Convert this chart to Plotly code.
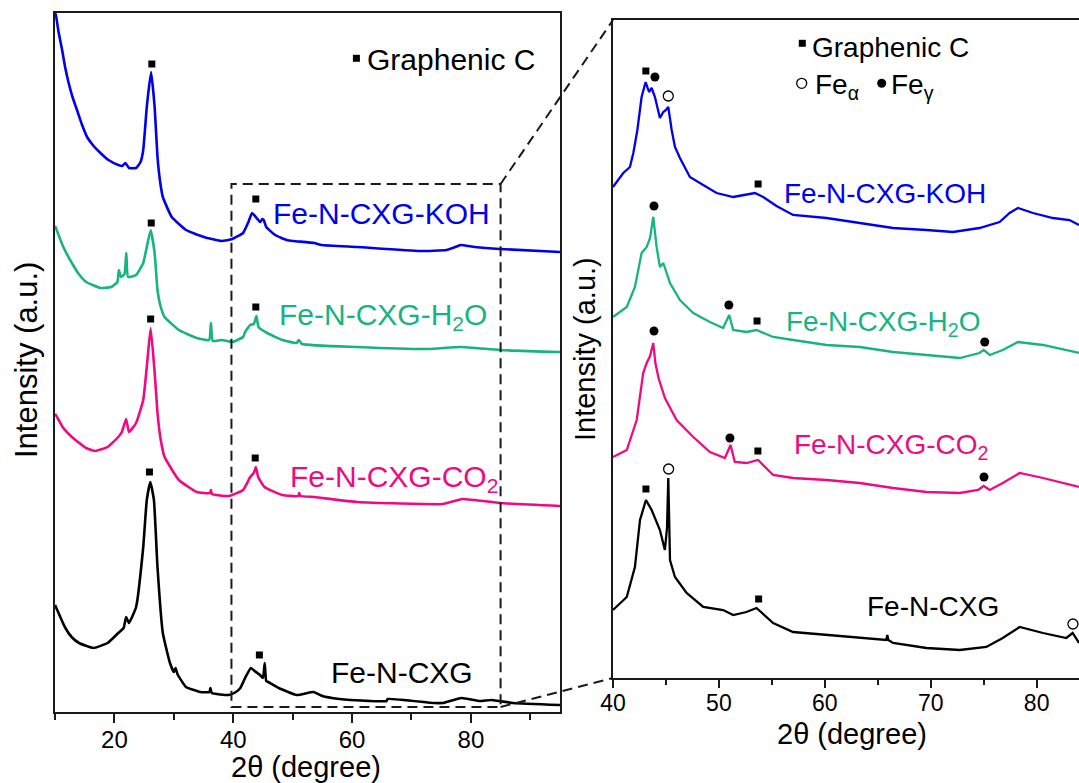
import plotly.graph_objects as go

W, H = 1079, 783

# ---------------- DATA (2theta in degree, intensity in a.u.) ----------------
# Left panel: full scans (stacked)
koh_L_x = [10.0, 10.15, 10.6, 11.2, 11.7, 12.3, 13.0, 13.7, 14.5, 15.4, 16.5, 17.65, 19.0, 20.65, 21.3, 21.85,
           22.45, 23.65, 24.4, 24.85, 25.45, 26.17, 26.77, 27.25, 27.7, 28.15, 29.65, 32.05, 35.06, 38.05,
           39.85, 41.66, 42.56, 43.16, 43.93, 44.54, 44.9, 45.14, 45.55, 47.06, 49.0, 50.07, 53.66, 54.86,
           60.85, 71.4, 75.87, 77.8, 78.27, 80.67, 84.87, 95.0]
koh_L_y = [699, 697, 680, 662, 645, 629, 614, 602, 588, 575, 566, 559, 552, 547, 546, 549,
           544, 544, 550, 562, 605, 640, 605, 555, 530, 515, 495, 482, 475, 471,
           473, 479, 490, 499, 494, 490, 493, 492, 485, 477, 472, 471, 469, 467,
           465, 461, 462, 466, 467, 465, 463, 460]

h2o_L_x = [10.0, 10.15, 11.4, 12.84, 14.0, 15.24, 17.65, 19.45, 20.5, 20.75, 21.1, 21.7, 22.0, 22.3, 23.65,
           24.85, 25.45, 26.1, 26.77, 27.25, 27.8, 28.45, 30.85, 33.85, 35.95, 36.25, 36.55, 38.05, 39.85,
           41.66, 42.0, 42.86, 43.46, 43.9, 44.25, 45.7, 48.26, 50.67, 51.0, 51.57, 60.85, 72.85, 78.27,
           84.87, 95.0]
h2o_L_y = [486, 484, 465, 449, 438, 430, 424, 425, 430, 442, 435, 438, 459, 435, 437,
           449, 465, 482, 459, 422, 405, 395, 382, 374, 372, 389, 371, 372, 370,
           375, 380, 387, 388, 396, 385, 379, 372, 369, 372, 368, 365, 363, 365,
           362, 360]

co2_L_x = [10.0, 10.15, 11.4, 12.84, 15.24, 16.75, 18.85, 20.65, 21.25, 21.97, 22.45, 23.65, 24.85, 25.45,
           26.1, 26.77, 27.1, 27.25, 27.8, 28.45, 30.85, 33.85, 36.1, 36.25, 36.4, 39.25, 41.66, 42.86,
           43.46, 43.8, 44.2, 45.26, 48.26, 50.96, 51.1, 51.3, 53.66, 60.85, 75.27, 78.57, 84.87, 95.0]
co2_L_y = [298, 297, 284, 275, 264, 261, 265, 275, 280, 293, 280, 289, 312, 345,
           384, 340, 312, 299, 272, 255, 232, 220, 219, 222, 218, 216, 222, 235,
           239, 245, 235, 225, 217, 216, 219, 216, 215, 210, 208, 213, 209, 206]

fe_L_x = [10.0, 10.15, 11.65, 12.8, 14.05, 16.45, 18.85, 20.65, 21.55, 21.97, 22.45, 23.65, 24.85, 25.45,
          26.05, 26.65, 27.25, 28.15, 29.35, 30.0, 30.3, 30.6, 32.05, 34.45, 36.0, 36.15, 36.4, 39.25,
          40.45, 41.2, 42.0, 42.97, 43.6, 44.5, 45.0, 45.3, 45.55, 45.9, 47.66, 50.67, 53.5, 55.0, 57.86,
          59.7, 65.8, 66.0, 73.7, 75.27, 78.4, 81.5, 83.5, 87.1, 95.0]
fe_L_y = [107, 105, 85, 75, 69, 64, 69, 79, 84, 95, 89, 105, 165, 212,
          230, 212, 145, 79, 49, 40, 44, 38, 25, 20, 20, 24, 19, 17,
          20, 24, 34, 44, 41, 37, 34, 49, 31, 30, 24, 17, 20, 16, 13,
          12, 11, 13, 9, 9, 14, 11, 12, 9, 7]

# Right panel: enlarged 40-84 degree region
koh_R_x = [40.0, 40.97, 41.6, 41.92, 42.3, 42.7, 43.08, 43.4, 43.65, 43.96, 44.43, 44.75, 45.0, 45.22, 45.54,
           45.85, 46.32, 47.26, 48.2, 49.78, 51.35, 52.61, 53.4, 54.18, 55.44, 57.0, 60.16, 63.3, 66.44,
           69.6, 72.1, 74.6, 76.5, 77.45, 78.24, 79.65, 81.54, 83.1, 84.0]
koh_R_y = [491, 505, 511, 525, 548, 581, 596, 586, 590, 581, 560, 566, 568, 571, 548,
           531, 520, 501, 495, 485, 481, 483, 485, 481, 472, 463, 460, 455, 450,
           448, 446, 450, 456, 465, 470, 465, 460, 458, 453]

h2o_R_x = [40.0, 41.3, 42.07, 42.7, 43.18, 43.5, 43.8, 44.12, 44.43, 44.75, 45.38, 46.32, 47.58, 49.15,
           50.4, 50.97, 51.35, 52.61, 53.55, 55.12, 57.0, 60.16, 63.3, 66.44, 69.6, 72.74, 74.6, 75.0,
           75.57, 76.8, 78.24, 80.6, 84.0]
h2o_R_y = [361, 371, 391, 425, 431, 440, 461, 431, 411, 415, 395, 378, 365, 356,
           350, 363, 348, 346, 348, 341, 338, 333, 331, 326, 323, 320, 325, 328,
           323, 328, 336, 333, 325]

co2_R_x = [40.0, 41.3, 42.24, 42.55, 42.85, 43.18, 43.5, 43.8, 44.0, 44.3, 44.9, 45.4, 46.0, 47.58, 49.15,
           50.57, 51.1, 51.5, 52.61, 53.7, 55.12, 57.0, 60.16, 63.3, 66.44, 69.6, 72.74, 74.47, 75.0,
           75.57, 76.8, 78.4, 80.6, 84.0]
co2_R_y = [221, 228, 258, 285, 305, 315, 322, 335, 315, 300, 280, 270, 258, 241, 226,
           220, 233, 216, 215, 218, 203, 200, 198, 195, 190, 186, 185, 188, 192,
           188, 195, 205, 200, 191]

fe_R_x = [40.0, 41.3, 42.07, 42.55, 43.11, 43.65, 44.43, 44.9, 45.1, 45.22, 45.32, 45.38, 45.85, 46.95,
          48.52, 50.4, 51.35, 52.6, 53.55, 55.12, 57.0, 60.16, 63.3, 65.8, 65.9, 66.0, 66.44, 69.6,
          72.74, 75.25, 76.8, 78.4, 80.6, 82.8, 83.4, 84.0]
fe_R_y = [68, 81, 111, 158, 178, 168, 148, 128, 150, 200, 150, 118, 101, 85,
          71, 68, 63, 66, 70, 55, 46, 43, 40, 38, 43, 38, 35, 30,
          28, 31, 40, 51, 45, 40, 45, 35]

# Phase markers (peak positions and heights)
gc_L_x = [26.3, 43.8, 26.2, 43.8, 26.1, 43.7, 25.9, 44.4]
gc_L_y = [648, 513, 489, 405, 393, 254, 240, 57]

gc_R_x = [43.1, 53.7, 53.6, 53.68, 43.11, 53.75]
gc_R_y = [607, 494, 357, 227, 189, 79]
feg_R_x = [43.96, 43.87, 50.94, 75.1, 43.87, 51.04, 75.03]
feg_R_y = [601, 472, 373, 336, 347, 240, 201]
fea_R_x = [45.22, 45.25, 83.43]
fea_R_y = [582, 209, 54]

names = ["Fe-N-CXG-KOH", "Fe-N-CXG-H<sub>2</sub>O", "Fe-N-CXG-CO<sub>2</sub>", "Fe-N-CXG"]
colors = ["#0000f0", "#16b482", "#f00a82", "#000000"]

# ---------------- LAYOUT GEOMETRY ----------------
FONT = "Liberation Sans, Arial, sans-serif"
def X(p):
    return p / W
def Y(p):
    return 1 - p / H

L_dom_x = [X(55), X(560)]
L_dom_y = [Y(712), Y(13)]
R_dom_x = [X(613), 1.0]
R_dom_y = [Y(678), Y(20)]
L_xr, L_yr = [10, 95], [0, 699]
R_xr, R_yr = [40, 84], [0, 658]

fig = go.Figure()

left_sets = [(koh_L_x, koh_L_y), (h2o_L_x, h2o_L_y), (co2_L_x, co2_L_y), (fe_L_x, fe_L_y)]
right_sets = [(koh_R_x, koh_R_y), (h2o_R_x, h2o_R_y), (co2_R_x, co2_R_y), (fe_R_x, fe_R_y)]
for (xs, ys), c in zip(left_sets, colors):
    fig.add_trace(go.Scatter(x=xs, y=ys, mode="lines", line=dict(color=c, width=2.6, shape="spline", smoothing=0.4),
                             xaxis="x", yaxis="y", showlegend=False, hoverinfo="skip"))
for (xs, ys), c in zip(right_sets, colors):
    fig.add_trace(go.Scatter(x=xs, y=ys, mode="lines", line=dict(color=c, width=2.3),
                             xaxis="x2", yaxis="y2", showlegend=False, hoverinfo="skip"))

fig.add_trace(go.Scatter(x=gc_L_x, y=gc_L_y, mode="markers", xaxis="x", yaxis="y",
                         marker=dict(symbol="square", size=7, color="black"), showlegend=False))
fig.add_trace(go.Scatter(x=gc_R_x, y=gc_R_y, mode="markers", xaxis="x2", yaxis="y2",
                         marker=dict(symbol="square", size=7, color="black"), showlegend=False))
fig.add_trace(go.Scatter(x=feg_R_x, y=feg_R_y, mode="markers", xaxis="x2", yaxis="y2",
                         marker=dict(symbol="circle", size=9, color="black"), showlegend=False))
fig.add_trace(go.Scatter(x=fea_R_x, y=fea_R_y, mode="markers", xaxis="x2", yaxis="y2",
                         marker=dict(symbol="circle-open", size=10, color="black",
                                     line=dict(width=1.3, color="black")), showlegend=False))

axis_common = dict(showgrid=False, zeroline=False, showline=True, linecolor="#1a1a1a", linewidth=2,
                   automargin=False)

fig.update_layout(
    template="none",
    width=W, height=H, margin=dict(l=0, r=0, t=0, b=0, pad=0, autoexpand=False),
    paper_bgcolor="white", plot_bgcolor="white",
    font=dict(family=FONT, color="black"),
    xaxis=dict(domain=L_dom_x, range=L_xr, anchor="y", mirror=True,
               tickvals=[20, 40, 60, 80], ticks="outside", ticklen=9, tickwidth=2, tickcolor="#1a1a1a",
               ticklabelstandoff=-4,
               tickfont=dict(size=24, family=FONT, color="black"),
               minor=dict(tickvals=[10, 30, 50, 70, 90], ticks="outside", ticklen=6, tickwidth=2,
                          tickcolor="#1a1a1a", showgrid=False),
               **axis_common),
    yaxis=dict(domain=L_dom_y, range=L_yr, anchor="x", mirror=True, showticklabels=False, ticks="",
               **axis_common),
    xaxis2=dict(domain=R_dom_x, range=R_xr, anchor="y2", mirror=True,
                tickvals=[40, 50, 60, 70, 80], ticks="outside", ticklen=8, tickwidth=2, tickcolor="#1a1a1a",
                ticklabelstandoff=-5,
                tickfont=dict(size=23, family=FONT, color="black"),
                minor=dict(tickvals=[45, 55, 65, 75], ticks="outside", ticklen=5, tickwidth=2,
                           tickcolor="#1a1a1a", showgrid=False),
                **axis_common),
    yaxis2=dict(domain=R_dom_y, range=R_yr, anchor="x2", mirror=False, showticklabels=False, ticks="",
                **axis_common),
)

# ---------- zoom box and connectors ----------
def lx(v):
    return L_dom_x[0] + (v - L_xr[0]) / (L_xr[1] - L_xr[0]) * (L_dom_x[1] - L_dom_x[0])
def ly(v):
    return L_dom_y[0] + (v - L_yr[0]) / (L_yr[1] - L_yr[0]) * (L_dom_y[1] - L_dom_y[0])

box_x0, box_x1, box_y0, box_y1 = 39.7, 85.0, 5, 528
dash = dict(color="#1a1a1a", width=2, dash="10px,6px")
fig.add_shape(type="rect", xref="x", yref="y", x0=box_x0, x1=box_x1, y0=box_y0, y1=box_y1, line=dash)
fig.add_shape(type="line", xref="paper", yref="paper", x0=lx(box_x1), y0=ly(box_y1),
              x1=R_dom_x[0], y1=R_dom_y[1], line=dash)
fig.add_shape(type="line", xref="paper", yref="paper", x0=lx(box_x1), y0=ly(box_y0),
              x1=R_dom_x[0], y1=R_dom_y[0], line=dash)

# ---------- legend symbols ----------
def sym(kind, cx, cy, size, filled=True):
    h = size / 2
    fig.add_shape(type=kind, xref="paper", yref="paper", xsizemode="pixel", ysizemode="pixel",
                  xanchor=X(cx), yanchor=Y(cy), x0=-h, x1=h, y0=-h, y1=h,
                  fillcolor="black" if filled else "white",
                  line=dict(color="black", width=0 if filled else 1.3))

sym("rect", 356.4, 58.3, 7)
sym("rect", 802.3, 43.3, 7)
sym("circle", 801.7, 83.3, 10, filled=False)
sym("circle", 881.7, 83.3, 9)

# ---------- text ----------
def txt(s, x, y, size, color="black", xanchor="left", angle=0):
    fig.add_annotation(text=s, x=X(x), y=Y(y), xref="paper", yref="paper", showarrow=False,
                       xanchor=xanchor, yanchor="middle", textangle=angle, borderpad=0,
                       font=dict(size=size, color=color, family=FONT))

txt("Graphenic C", 366, 60, 30)
txt(names[0], 272, 213, 30, colors[0])
txt(names[1], 278, 316, 30, colors[1])
txt(names[2], 289, 478, 30, colors[2])
txt(names[3], 330, 672, 30, colors[3])

txt("Graphenic C", 811, 47, 28)
txt("Fe<sub>α</sub>", 814, 86, 28)
txt("Fe<sub>γ</sub>", 890, 86, 28)
txt(names[0], 783, 193, 28, colors[0])
txt(names[1], 785, 324, 28, colors[1])
txt(names[2], 793, 446, 28, colors[2])
txt(names[3], 866, 606, 28, colors[3])

txt("2θ (degree)", 306, 767, 29, xanchor="center")
txt("2θ (degree)", 852, 734, 29, xanchor="center")
txt("Intensity (a.u.)", 26, 360, 31, xanchor="center", angle=-90)
txt("Intensity (a.u.)", 585, 349, 29, xanchor="center", angle=-90)

fig.write_html("out.html")
